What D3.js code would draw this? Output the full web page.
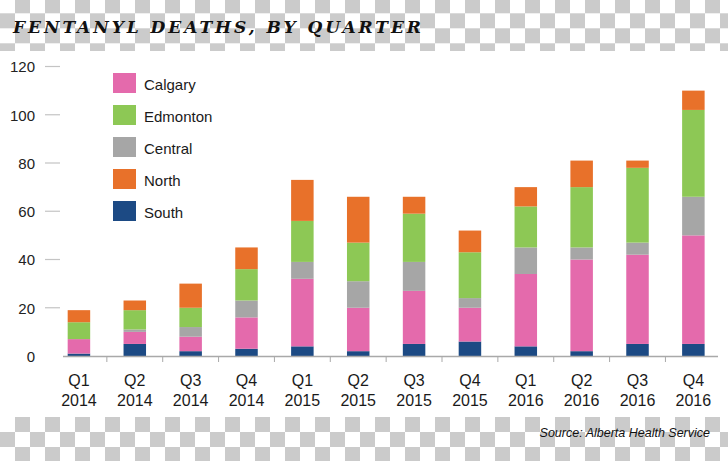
<!DOCTYPE html>
<html>
<head>
<meta charset="utf-8">
<script src="https://cdn.jsdelivr.net/npm/d3@7"></script>
<style>
  html, body { margin: 0; padding: 0; background: #fff; }
  svg { display: block; }
</style>
</head>
<body>
<svg id="chart" width="728" height="461"></svg>
<script>
// ---- data ----
const quarters = ["Q1","Q2","Q3","Q4","Q1","Q2","Q3","Q4","Q1","Q2","Q3","Q4"];
const years    = ["2014","2014","2014","2014","2015","2015","2015","2015","2016","2016","2016","2016"];
const south    = [1, 5, 2, 3, 4, 2, 5, 6, 4, 2, 5, 5];
const calgary  = [6, 5, 6, 13, 28, 18, 22, 14, 30, 38, 37, 45];
const central  = [0, 1, 4, 7, 7, 11, 12, 4, 11, 5, 5, 16];
const edmonton = [7, 8, 8, 13, 17, 16, 20, 19, 17, 25, 31, 36];
const north    = [5, 4, 10, 9, 17, 19, 7, 9, 8, 11, 3, 8];
const yTicks   = [0, 20, 40, 60, 80, 100, 120];
const legendNames = ["Calgary", "Edmonton", "Central", "North", "South"];
const stackOrder  = ["South", "Calgary", "Central", "Edmonton", "North"];
const seriesData  = { South: south, Calgary: calgary, Central: central, Edmonton: edmonton, North: north };
const colors = { Calgary: "#e46aac", Edmonton: "#8dc855", Central: "#a6a6a6", North: "#e8712a", South: "#1c4a84" };
const titleText  = "FENTANYL DEATHS, BY QUARTER";
const sourceText = "Source: Alberta Health Service";

const svg = d3.select("#chart");

// ---- checkerboard background (top and bottom strips) ----
const bg = svg.append("g");
function checker(y0, y1, rowStart, parity) {
  const sq = 15;
  for (let r = 0; ; r++) {
    const ry = rowStart + r * sq;
    if (ry >= y1) break;
    for (let c = 0; c * sq < 728; c++) {
      if ((c + r + parity) % 2 === 1) {
        const top = Math.max(ry, y0), bot = Math.min(ry + sq, y1);
        if (bot > top) bg.append("rect").attr("x", c * sq).attr("y", top)
          .attr("width", sq).attr("height", bot - top).attr("fill", "#cbcbcb");
      }
    }
  }
}
checker(0, 51, -1.7, 0);
checker(417, 461, 417, 0);

// ---- title ----
svg.append("text")
  .attr("x", 13).attr("y", 33)
  .attr("font-family", "'DejaVu Serif', serif")
  .attr("font-style", "italic")
  .attr("font-weight", "bold")
  .attr("font-size", 17)
  .attr("fill", "#111")
  .attr("textLength", 408)
  .attr("lengthAdjust", "spacing")
  .text(titleText);

// ---- scales ----
const idx = d3.range(quarters.length);
const x = d3.scaleBand().domain(idx).range([51, 721.3]).padding(0);
const barW = 22.5;
const y = d3.scaleLinear().domain([0, 120]).range([356, 66.5]);

// ---- y axis (labels + short dashes) ----
const yAxis = d3.axisLeft(y).tickValues(yTicks).tickSize(0).tickPadding(0);
const yg = svg.append("g").attr("transform", "translate(35,0)").call(yAxis);
yg.select(".domain").remove();
yg.selectAll("text")
  .attr("font-family", "'Liberation Sans', Arial, sans-serif")
  .attr("font-size", 15).attr("fill", "#222").attr("dy", "0.36em");
svg.append("g").selectAll("line").data(yTicks.filter(d => d > 0)).join("line")
  .attr("x1", 45).attr("x2", 60)
  .attr("y1", d => y(d)).attr("y2", d => y(d))
  .attr("stroke", "#c4c4c4").attr("stroke-width", 1.2);

// ---- stacked bars ----
const rows = idx.map(i => {
  const o = { i };
  stackOrder.forEach(k => o[k] = seriesData[k][i]);
  return o;
});
const stacked = d3.stack().keys(stackOrder)(rows);
svg.append("g").selectAll("g").data(stacked).join("g")
  .attr("fill", d => colors[d.key])
  .selectAll("rect").data(d => d).join("rect")
  .attr("x", d => x(d.data.i) + x.bandwidth() / 2 - barW / 2)
  .attr("width", barW)
  .attr("y", d => y(d[1]))
  .attr("height", d => y(d[0]) - y(d[1]));

// ---- x axis baseline + ticks ----
svg.append("line")
  .attr("x1", 63).attr("x2", 718).attr("y1", 356.5).attr("y2", 356.5)
  .attr("stroke", "#a9a9a9").attr("stroke-width", 1.3);
svg.append("g").selectAll("line").data(idx.slice(1)).join("line")
  .attr("x1", d => x(d)).attr("x2", d => x(d))
  .attr("y1", 356.5).attr("y2", 362)
  .attr("stroke", "#a9a9a9").attr("stroke-width", 1);

const xl = svg.append("g")
  .attr("font-family", "'Liberation Sans', Arial, sans-serif")
  .attr("font-size", 16).attr("fill", "#1a1a1a").attr("text-anchor", "middle");
xl.selectAll("text.q").data(idx).join("text").attr("class", "q")
  .attr("x", d => x(d) + x.bandwidth() / 2).attr("y", 386)
  .text(d => quarters[d]);
xl.selectAll("text.yr").data(idx).join("text").attr("class", "yr")
  .attr("x", d => x(d) + x.bandwidth() / 2).attr("y", 406)
  .text(d => years[d]);

// ---- legend ----
const lg = svg.append("g");
const li = lg.selectAll("g").data(legendNames).join("g")
  .attr("transform", (d, i) => `translate(113,${73 + i * 32})`);
li.append("rect").attr("width", 23).attr("height", 20).attr("fill", d => colors[d]);
li.append("text").attr("x", 31).attr("y", 16.5)
  .attr("font-family", "'Liberation Sans', Arial, sans-serif")
  .attr("font-size", 15).attr("fill", "#1a1a1a")
  .text(d => d);

// ---- source ----
svg.append("text")
  .attr("x", 710).attr("y", 437).attr("text-anchor", "end")
  .attr("font-family", "'Liberation Sans', Arial, sans-serif")
  .attr("font-style", "italic").attr("font-size", 12.5).attr("fill", "#111")
  .text(sourceText);
</script>
</body>
</html>
